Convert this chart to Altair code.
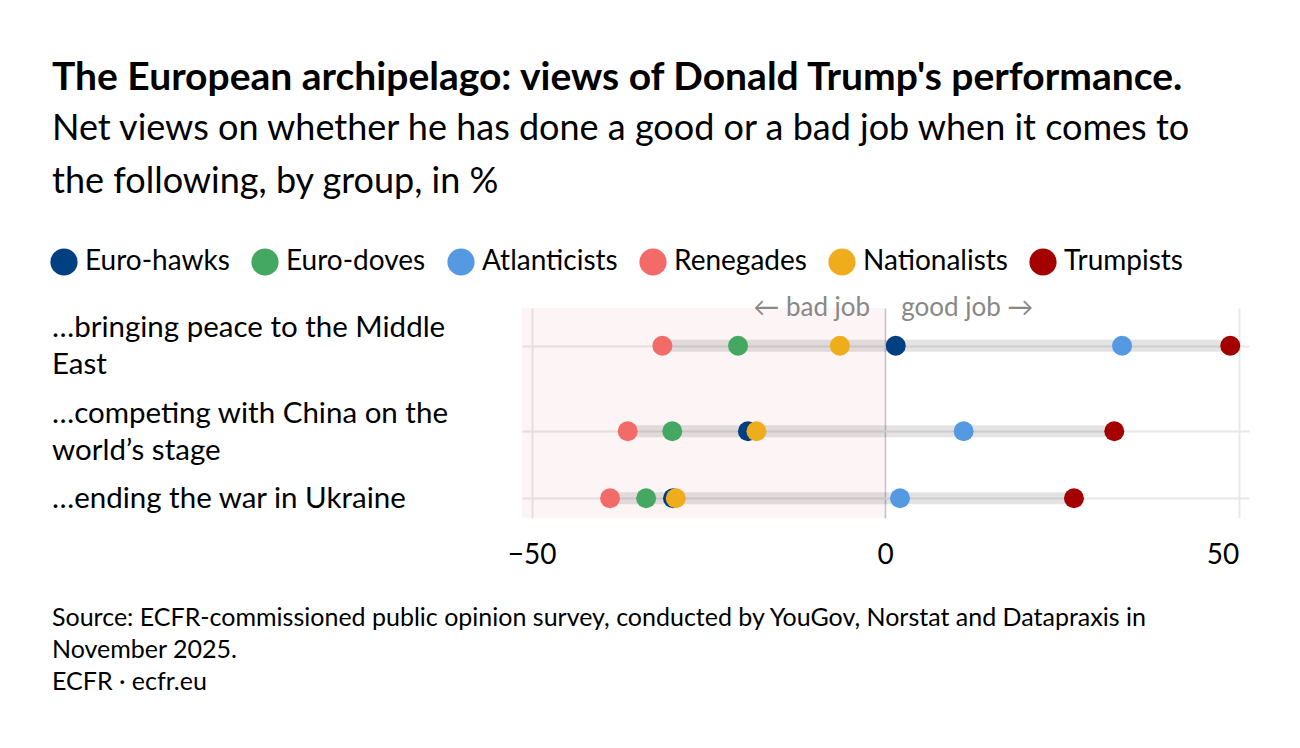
import textwrap
import altair as alt
import pandas as pd

# ---------------- data ----------------
TITLE = "The European archipelago: views of Donald Trump's performance."
SUBTITLE = [
    "Net views on whether he has done a good or a bad job when it comes to",
    "the following, by group, in %",
]
SOURCE = [
    "Source: ECFR-commissioned public opinion survey, conducted by YouGov, Norstat and Datapraxis in",
    "November 2025.",
    "ECFR · ecfr.eu",
]
BAD_LABEL = "← bad job"
GOOD_LABEL = "good job →"

topics = [
    "…bringing peace to the Middle East",
    "…competing with China on the world’s stage",
    "…ending the war in Ukraine",
]
groups = ["Euro-hawks", "Euro-doves", "Atlanticists", "Renegades", "Nationalists", "Trumpists"]
colors = ["#003f80", "#44a862", "#5599e2", "#f36b68", "#efad1d", "#a50000"]

euro_hawks = [1.5, -19.4, -30.0]
euro_doves = [-20.8, -30.1, -33.8]
atlanticists = [33.5, 11.1, 2.1]
renegades = [-31.5, -36.4, -38.9]
nationalists = [-6.4, -18.2, -29.6]
trumpists = [48.8, 32.4, 26.7]
series = [euro_hawks, euro_doves, atlanticists, renegades, nationalists, trumpists]

x_ticks = [-50, 0, 50]

# ---------------- layout ----------------
FONT = "Lato"
W, H = 727, 210
LEFT, TOP = 522, 308
X_DOMAIN = [-51.35, 51.45]
LINE_H, GAP, TOP_OFF = 37, 11.5, 0.7
TEXT_X = 52 - LEFT

wrapped = [textwrap.wrap(t, 30) for t in topics]
row_pos = []
label_pos = []
cur = TOP_OFF
for lines in wrapped:
    n = len(lines)
    center = cur + n * LINE_H / 2
    row_pos.append(center)
    label_pos.append(center - (n - 1) * LINE_H / 2)
    cur += n * LINE_H + GAP

rows = []
for g, vals in zip(groups, series):
    for t, p, v in zip(topics, row_pos, vals):
        rows.append({"topic": t, "pos": p, "group": g, "value": v})
dots_df = pd.DataFrame(rows)
labels_df = pd.DataFrame({"lines": wrapped, "lpos": label_pos})

xscale = alt.Scale(domain=X_DOMAIN, nice=False, zero=False)
yscale = alt.Scale(domain=[0, H], reverse=True, nice=False, zero=False)

xaxis = alt.Axis(
    values=x_ticks, title=None, grid=True, domain=False, ticks=False, tickSize=0,
    labelFont=FONT, labelFontSize=28, labelColor="#000000", labelPadding=45,
    labelBaseline="alphabetic",
    labelAlign=alt.expr("datum.value === %d ? 'right' : 'center'" % max(x_ticks)),
    gridColor={"condition": {"test": "datum.value === 0", "value": "#c6c6c6"}, "value": "#e8e8e8"},
    gridWidth={"condition": {"test": "datum.value === 0", "value": 1.6}, "value": 2},
)
yaxis = alt.Axis(
    values=row_pos, title=None, grid=True, domain=False, ticks=False, labels=False,
    gridColor="#e8e8e8", gridWidth=2,
)

# negative zone shading
neg = alt.Chart(pd.DataFrame({"a": [0]})).mark_rect(color="#d84040", opacity=0.05).encode(
    x=alt.X(datum=0, scale=xscale, axis=xaxis),
    x2=alt.value(0),
    y=alt.value(0),
    y2=alt.value(H),
)

# range bars
ranges = alt.Chart(dots_df).transform_aggregate(
    lo="min(value)", hi="max(value)", groupby=["topic", "pos"]
).mark_rule(color="#000000", opacity=0.11, strokeWidth=12, strokeCap="butt").encode(
    x=alt.X("lo:Q", scale=xscale, axis=xaxis),
    x2="hi:Q",
    y=alt.Y("pos:Q", scale=yscale, axis=yaxis),
)

dots = alt.Chart(dots_df).mark_circle(size=400, opacity=1).encode(
    x=alt.X("value:Q", scale=xscale, axis=xaxis),
    y=alt.Y("pos:Q", scale=yscale, axis=yaxis),
    color=alt.Color(
        "group:N",
        scale=alt.Scale(domain=groups, range=colors),
        legend=alt.Legend(
            orient="none", legendX=50 - LEFT, legendY=-60, direction="horizontal",
            title=None, symbolType="circle", symbolSize=740, symbolStrokeWidth=0,
            symbolOpacity=1, labelFont=FONT, labelFontSize=28, labelColor="#000000",
            labelOffset=7, columnPadding=21, padding=0, labelLimit=400,
        ),
    ),
    tooltip=["topic:N", "group:N", "value:Q"],
)

labels = alt.Chart(labels_df).mark_text(
    align="left", baseline="middle", font=FONT, fontSize=29.5, color="#000000",
    lineHeight=LINE_H, dy=1,
).encode(
    x=alt.value(TEXT_X),
    y=alt.Y("lpos:Q", scale=yscale, axis=yaxis),
    text="lines",
)

ann_df = pd.DataFrame({"a": [0]})
bad = alt.Chart(ann_df).mark_text(
    align="right", baseline="alphabetic", font=FONT, fontSize=26, color="#888888", dx=-15,
).encode(x=alt.X(datum=0, scale=xscale, axis=xaxis), y=alt.value(8), text=alt.value(BAD_LABEL))
good = alt.Chart(ann_df).mark_text(
    align="left", baseline="alphabetic", font=FONT, fontSize=26, color="#888888", dx=16,
).encode(x=alt.X(datum=0, scale=xscale, axis=xaxis), y=alt.value(8), text=alt.value(GOOD_LABEL))

title = alt.Chart(pd.DataFrame({"t": [TITLE]})).mark_text(
    align="left", baseline="alphabetic", font=FONT, fontSize=39, fontWeight="bold", color="#000000",
).encode(x=alt.value(TEXT_X), y=alt.value(90 - TOP), text="t:N")

subtitle = alt.Chart(pd.DataFrame({"t": [SUBTITLE]})).mark_text(
    align="left", baseline="alphabetic", font=FONT, fontSize=36, color="#000000", lineHeight=53,
).encode(x=alt.value(TEXT_X), y=alt.value(140 - TOP), text="t")

footer = alt.Chart(pd.DataFrame({"t": [SOURCE]})).mark_text(
    align="left", baseline="alphabetic", font=FONT, fontSize=25, color="#000000", lineHeight=32,
).encode(x=alt.value(TEXT_X), y=alt.value(626 - TOP), text="t")

chart = alt.layer(neg, ranges, dots, labels, bad, good, title, subtitle, footer).properties(
    width=W, height=H,
    autosize=alt.AutoSizeParams(type="none"),
    padding={"left": LEFT, "top": TOP, "right": 1300 - LEFT - W, "bottom": 748 - TOP - H},
    background="#ffffff",
).configure_view(strokeWidth=0)

chart.save("out.html", embed_options={"renderer": "svg", "actions": False})
